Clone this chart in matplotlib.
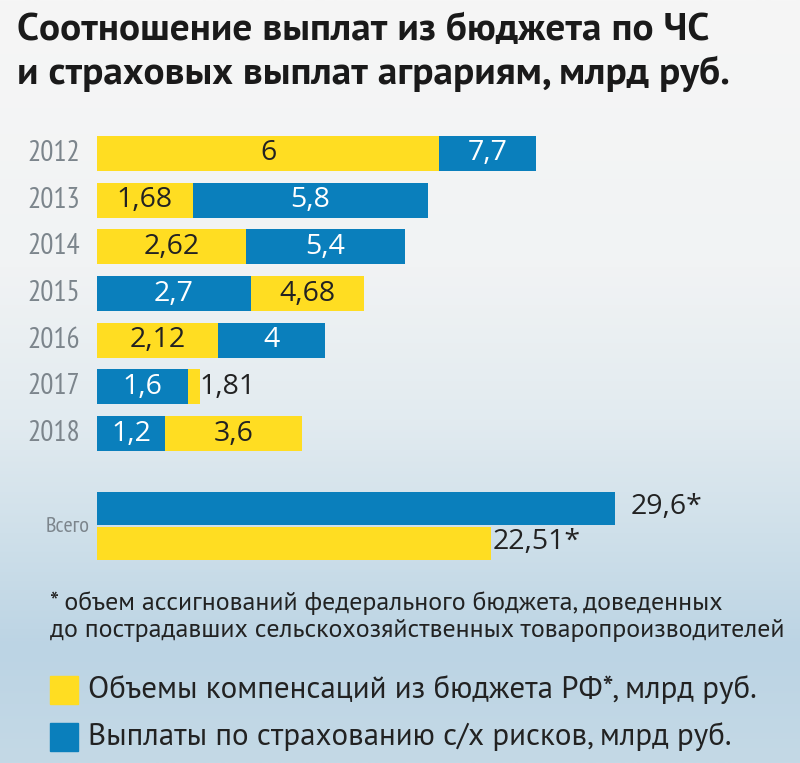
import numpy as np
import matplotlib.pyplot as plt
from matplotlib.colors import LinearSegmentedColormap

plt.rcParams['font.family'] = ['PT Sans', 'DejaVu Sans']
NARROW = ['PT Sans Narrow', 'DejaVu Sans']
NUM = ['Open Sans', 'DejaVu Sans']

# data
years = ['2012', '2013', '2014', '2015', '2016', '2017', '2018']
budget = [6, 1.68, 2.62, 4.68, 2.12, 1.81, 3.6]      # компенсации из бюджета
insurance = [7.7, 5.8, 5.4, 2.7, 4, 1.6, 1.2]       # страховые выплаты
total_budget = 22.51
total_insurance = 29.6

YELLOW = '#FFDD22'
BLUE = '#0A7FBC'
DARK = '#222222'
GRAY = '#7C858C'

W, H = 800, 763
fig = plt.figure(figsize=(W / 100, H / 100), dpi=100)


def fx(x):
    return x / W


def fy(y):
    return 1 - y / H


def fmt(v):
    return f'{v:g}'.replace('.', ',')


# background: sky gradient
bg = fig.add_axes([0, 0, 1, 1], zorder=-10)
sky = LinearSegmentedColormap.from_list('sky', [
    (0.0, '#f6f6f6'), (0.35, '#f1f3f4'), (0.55, '#e2ebf0'),
    (0.7, '#cfe0ea'), (0.85, '#bcd4e4'), (1.0, '#c4d9e6')])
grad = np.linspace(0, 1, 256).reshape(-1, 1)
bg.imshow(grad, aspect='auto', cmap=sky, extent=[0, 1, 0, 1], origin='upper')
bg.axis('off')

# title
fig.text(fx(17), fy(30), 'Соотношение выплат из бюджета по ЧС', fontsize=28.4,
         fontweight='bold', color='#1a1a1a', va='center', ha='left')
fig.text(fx(17), fy(74), 'и страховых выплат аграриям, млрд руб.', fontsize=28.4,
         fontweight='bold', color='#1a1a1a', va='center', ha='left')

# yearly bars: overlapping, bigger one behind
ppu = 57.0
ax_w = 650
top_px, bot_px = 130, 456
row = 46.67
ax = fig.add_axes([fx(97), fy(bot_px), ax_w / W, (bot_px - top_px) / H])
ax.set_xlim(0, ax_w / ppu)
ax.set_ylim(6 + (bot_px - 153.5 - 6 * row) / row, -(153.5 - top_px) / row)
ax.axis('off')

hb = 0.75
fs = 20.5
for i in range(len(years)):
    b, s = budget[i], insurance[i]
    if b >= s:
        ax.barh(i, b, height=hb, color=YELLOW, zorder=1)
        ax.barh(i, s, height=hb, color=BLUE, zorder=2)
        ax.text(s / 2, i, fmt(s), color='white', fontsize=fs, family=NUM,
                ha='center', va='center', zorder=3)
        if b - s > 1.0:
            ax.text((s + b) / 2, i, fmt(b), color=DARK, fontsize=fs, family=NUM,
                    ha='center', va='center', zorder=3)
        else:
            ax.text(b - 0.02, i, fmt(b), color=DARK, fontsize=fs, family=NUM,
                    ha='left', va='center', zorder=3)
    else:
        ax.barh(i, s, height=hb, color=BLUE, zorder=1)
        ax.barh(i, b, height=hb, color=YELLOW, zorder=2)
        ax.text(b / 2, i, fmt(b), color=DARK, fontsize=fs, family=NUM,
                ha='center', va='center', zorder=3)
        if s - b > 1.0:
            ax.text((s + b) / 2, i, fmt(s), color='white', fontsize=fs, family=NUM,
                    ha='center', va='center', zorder=3)
        else:
            ax.text(s + 0.1, i, fmt(s), color=DARK, fontsize=fs, family=NUM,
                    ha='left', va='center', zorder=3)
    ax.text(-0.3, i, years[i], color=GRAY, fontsize=21, family=NARROW,
            ha='right', va='center')

# totals
ppu2 = 17.5
ax2 = fig.add_axes([fx(97), fy(562), ax_w / W, (562 - 490) / H])
ax2.set_xlim(0, ax_w / ppu2)
ax2.set_ylim(1 + (562 - 543.5) / 35, -(508.5 - 490) / 35)
ax2.axis('off')
ax2.barh(0, total_insurance, height=0.97, color=BLUE)
ax2.barh(1, total_budget, height=0.97, color=YELLOW)
ax2.text(total_insurance + 0.9, -0.05, fmt(total_insurance) + '*',
         color=DARK, fontsize=fs, family=NUM, ha='left', va='center')
ax2.text(total_budget + 0.1, 0.95, fmt(total_budget) + '*',
         color=DARK, fontsize=fs, family=NUM, ha='left', va='center')
ax2.text(-0.4, 0.5, 'Всего', color=GRAY, fontsize=16, family=NARROW,
         ha='right', va='center')

# footnote
fig.text(fx(50), fy(603), '* объем ассигнований федерального бюджета, доведенных',
         fontsize=18.6, color=DARK, va='center')
fig.text(fx(50), fy(630), 'до пострадавших сельскохозяйственных товаропроизводителей',
         fontsize=18.6, color=DARK, va='center')

# legend
fig.patches.append(plt.Rectangle((fx(50), fy(704)), 28 / W, 28 / H,
                                 transform=fig.transFigure, color=YELLOW))
fig.patches.append(plt.Rectangle((fx(50), fy(751)), 28 / W, 28 / H,
                                 transform=fig.transFigure, color=BLUE))
fig.text(fx(88), fy(690), 'Объемы компенсаций из бюджета РФ*, млрд руб.',
         fontsize=22.3, color=DARK, va='center')
fig.text(fx(88), fy(737), 'Выплаты по страхованию с/х рисков, млрд руб.',
         fontsize=22.3, color=DARK, va='center')

plt.savefig('out.png', dpi=100)
